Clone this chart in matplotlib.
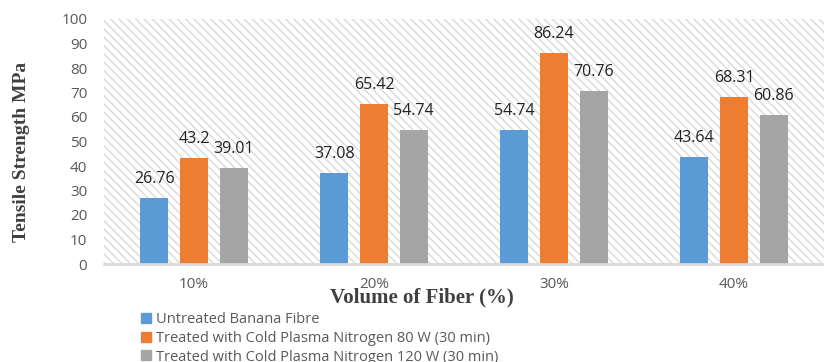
import numpy as np
import matplotlib.pyplot as plt
from matplotlib.patches import Rectangle
from matplotlib.lines import Line2D

volumes = ["10%", "20%", "30%", "40%"]
untreated = [26.76, 37.08, 54.74, 43.64]
plasma_80w = [43.2, 65.42, 86.24, 68.31]
plasma_120w = [39.01, 54.74, 70.76, 60.86]

series_names = [
    "Untreated Banana Fibre",
    "Treated with Cold Plasma Nitrogen 80 W (30 min)",
    "Treated with Cold Plasma Nitrogen 120 W (30 min)",
]
colors = ["#5B9BD5", "#ED7D31", "#A5A5A5"]

fig = plt.figure(figsize=(8.24, 3.62), dpi=100)
ax = fig.add_axes([104 / 824, 1 - 264 / 362, 720 / 824, 245 / 362])

# striped plot area
ax.add_patch(Rectangle((0, 0), 1, 1, transform=ax.transAxes, facecolor="white",
                       edgecolor="#D9D9D9", hatch="\\\\\\\\", linewidth=0, zorder=0))

x = np.arange(len(volumes))
width = 0.155
offsets = [-0.22, 0.0, 0.22]
for vals, off, c in zip([untreated, plasma_80w, plasma_120w], offsets, colors):
    bars = ax.bar(x + off, vals, width, color=c, zorder=2)
    for b, v in zip(bars, vals):
        ax.annotate(f"{v:g}", (b.get_x() + b.get_width() / 2, v),
                    xytext=(0, 8), textcoords="offset points",
                    ha="center", va="bottom", fontsize=11.5, color="#222222",
                    family="Open Sans")

ax.set_xlim(-0.5, 3.5)
ax.set_ylim(0, 100)
ax.set_yticks(range(0, 101, 10))
ax.set_xticks(x)
ax.set_xticklabels(volumes)
for s in ["top", "right", "left"]:
    ax.spines[s].set_visible(False)
ax.spines["bottom"].set_color("#D9D9D9")
ax.spines["bottom"].set_linewidth(2)
ax.spines["bottom"].set_zorder(3)
ax.tick_params(length=0, labelsize=11, labelcolor="#595959")
ax.tick_params(axis="x", pad=9)
ax.tick_params(axis="y", pad=12)
for lbl in ax.get_xticklabels() + ax.get_yticklabels():
    lbl.set_family("Open Sans")

fig.text(22 / 824, 1 - 152 / 362, "Tensile Strength MPa", rotation=90,
         ha="center", va="center", fontsize=14, fontweight="bold",
         family="Liberation Serif", color="#404040")
fig.text(422 / 824, 1 - 297 / 362, "Volume of Fiber (%)", ha="center", va="center",
         fontsize=15, fontweight="bold", family="Liberation Serif", color="#404040")

handles = [Line2D([], [], marker="s", linestyle="", markersize=7,
                  markerfacecolor=c, markeredgecolor=c) for c in colors]
leg = fig.legend(handles, series_names, loc="upper left",
                 bbox_to_anchor=(134 / 824, 1 - 305 / 362), frameon=False,
                 handlelength=0.6, handletextpad=0.4, labelspacing=0.25,
                 borderpad=0, prop={"family": "Open Sans", "size": 10.5})
for t in leg.get_texts():
    t.set_color("#595959")

fig.savefig("out.png", dpi=100)
